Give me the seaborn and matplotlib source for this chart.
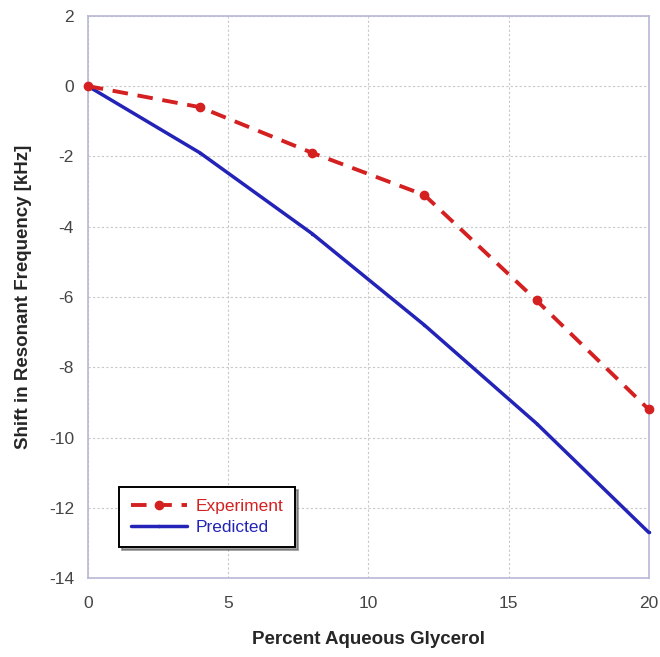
import matplotlib
matplotlib.use("Agg")
import matplotlib.pyplot as plt
import seaborn as sns
import pandas as pd

glycerol = [0, 4, 8, 12, 16, 20]
experiment = [0.0, -0.6, -1.9, -3.1, -6.1, -9.2]
predicted = [0.0, -1.9, -4.2, -6.8, -9.6, -12.7]

sns.set_style("white")
plt.rcParams['font.family'] = ['Liberation Sans', 'DejaVu Sans']
plt.rcParams['axes.unicode_minus'] = False

fig = plt.figure(figsize=(6.6, 6.57), dpi=100)
ax = fig.add_axes([0.133, 0.120, 0.850, 0.856])

df = pd.DataFrame({"x": glycerol, "Experiment": experiment, "Predicted": predicted})

sns.lineplot(data=df, x="x", y="Experiment", ax=ax, color="#d42020", lw=2.8,
             linestyle=(0, (4, 2.5)), marker="o", markersize=7, markeredgewidth=0,
             label="Experiment", clip_on=False, zorder=4)
sns.lineplot(data=df, x="x", y="Predicted", ax=ax, color="#2323b8", lw=2.5,
             marker="o", markersize=2.5, markeredgewidth=0, label="Predicted",
             clip_on=False, zorder=3)

ax.set_xlim(0, 20)
ax.set_ylim(-14, 2)
ax.set_xticks([0, 5, 10, 15, 20])
ax.set_yticks(range(-14, 3, 2))
ax.grid(True, color="#c8c8c8", linestyle=(0, (2, 2)), lw=0.8)
for s in ax.spines.values():
    s.set_color("#b8b8d8")
    s.set_linewidth(1.2)
ax.tick_params(axis="both", labelsize=12.5, colors="#444444", length=0)
ax.tick_params(axis="x", pad=13)
ax.tick_params(axis="y", pad=10)
ax.set_xlabel("Percent Aqueous Glycerol", fontsize=13.5, fontweight="bold", labelpad=14)
ax.set_ylabel("Shift in Resonant Frequency [kHz]", fontsize=13.5, fontweight="bold", labelpad=12)

leg = ax.legend(loc="lower left", bbox_to_anchor=(0.04, 0.04), frameon=True,
                fancybox=False, shadow=True, fontsize=12.5, handlelength=3.2,
                borderpad=0.7, labelspacing=0.3, handletextpad=0.5)
leg.get_frame().set_edgecolor("black")
leg.get_frame().set_linewidth(1.4)
for txt, c in zip(leg.get_texts(), ["#d42020", "#2323b8"]):
    txt.set_color(c)

fig.savefig("out.png", dpi=100)
